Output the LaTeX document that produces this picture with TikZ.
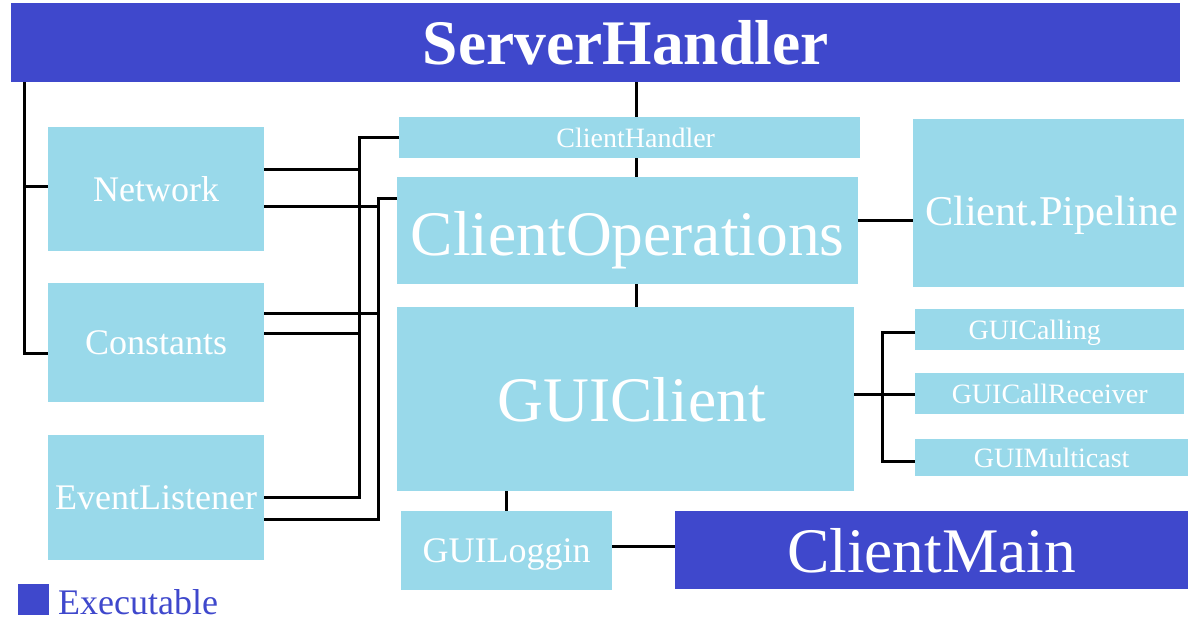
\documentclass[tikz,border=0pt]{standalone}
\usepackage{fontspec}
\setmainfont{Liberation Serif}
\usetikzlibrary{calc}
\definecolor{execblue}{RGB}{63,72,204}
\definecolor{classblue}{RGB}{153,217,234}
\newcommand{\hugetxt}{\fontsize{63.5}{70}\selectfont}
\newcommand{\pipetxt}{\fontsize{42.4}{48}\selectfont}
\newcommand{\midtxt}{\fontsize{36}{40}\selectfont}
\newcommand{\smalltxt}{\fontsize{28}{32}\selectfont}
\tikzset{
  % Klassen-Kasten
  classbox/.style={fill=classblue, text=white, inner sep=0pt, anchor=north west, text depth=0pt},
  % ausfuehrbare Klasse
  execbox/.style={classbox, fill=execblue},
  link/.style={draw=black, line width=3pt}
}
\begin{document}
\begin{tikzpicture}[x=1pt, y=-1pt, line join=miter]
  \useasboundingbox (0,0) rectangle (1198,624);
  % --- Kaesten ---
  \node[execbox, minimum width=1169pt, minimum height=79pt, font=\hugetxt\bfseries] (sh) at (11,3) {\hspace*{60pt}ServerHandler};
  \node[classbox, minimum width=216pt, minimum height=124pt, font=\midtxt] (net) at (48,127) {Network};
  \node[classbox, minimum width=216pt, minimum height=119pt, font=\midtxt] (con) at (48,283) {Constants};
  \node[classbox, minimum width=216pt, minimum height=125pt, font=\midtxt] (el) at (48,435) {EventListener};
  \node[classbox, minimum width=461pt, minimum height=41pt, font=\smalltxt] (ch) at (399,117) {\hspace*{12pt}ClientHandler};
  \node[classbox, minimum width=461pt, minimum height=107pt, text height=49.4pt, font=\hugetxt] (co) at (397,177) {ClientOperations};
  \node[classbox, minimum width=457pt, minimum height=184pt, font=\hugetxt] (gui) at (397,307) {\hspace*{12pt}GUIClient};
  \node[classbox, minimum width=271pt, minimum height=168pt, text height=45pt, font=\pipetxt] (pipe) at (913,119) {\hspace*{6pt}Client.Pipeline};
  \node[classbox, minimum width=269pt, minimum height=41pt, font=\smalltxt] (gcall) at (915,309) {GUICalling\hspace*{30pt}};
  \node[classbox, minimum width=269pt, minimum height=41pt, font=\smalltxt] (grecv) at (915,373) {GUICallReceiver};
  \node[classbox, minimum width=273pt, minimum height=37pt, font=\smalltxt] (gmul) at (915,439) {GUIMulticast};
  \node[classbox, minimum width=211pt, minimum height=79pt, font=\midtxt] (login) at (401,511) {GUILoggin};
  \node[execbox, minimum width=513pt, minimum height=78pt, font=\hugetxt] (cmain) at (675,511) {ClientMain};
  % --- Legende ---
  \node[execbox, minimum width=31pt, minimum height=31pt] (legbox) at (18,584) {};
  \node[anchor=base west, inner sep=0pt, text=execblue, font=\midtxt] (legtxt) at (58,614) {Executable};
  % --- Hilfslinien ---
  \coordinate (trunk) at (24,0);
  \coordinate (busA) at (359,0);
  \coordinate (busB) at (378,0);
  \coordinate (mid) at (636,0);
  \coordinate (brk) at (882,0);
  % ServerHandler links
  \draw[link] (sh.south -| trunk) |- ([yshift=-10.5pt]con.west);
  \draw[link] ([yshift=3pt]net.west -| trunk) -- ([yshift=3pt]net.west);
  % Bus zu ClientHandler
  \draw[link] (ch.west) -| (el.east -| busA) -- (el.east);
  \draw[link] ([yshift=20pt]net.east) -- ([yshift=20pt]net.east -| busA);
  \draw[link] ([yshift=9.5pt]con.east) -- ([yshift=9.5pt]con.east -| busA);
  % Bus zu ClientOperations
  \draw[link] ([yshift=32.5pt]co.west) -| ([yshift=-21.5pt]el.east -| busB) -- ([yshift=-21.5pt]el.east);
  \draw[link] ([yshift=-17pt]net.east) -- ([yshift=-17pt]net.east -| busB);
  \draw[link] ([yshift=29.5pt]con.east) -- ([yshift=29.5pt]con.east -| busB);
  % Mittelachse
  \draw[link] (sh.south -| mid) -- (ch.north -| mid);
  \draw[link] (ch.south -| mid) -- (co.north -| mid);
  \draw[link] (co.south -| mid) -- (gui.north -| mid);
  \draw[link] ([yshift=10.5pt]co.east) -- ([yshift=10.5pt]co.east -| pipe.west);
  % GUI-Klassen rechts
  \draw[link] ([yshift=5pt]gui.east) -- ([yshift=5pt]gui.east -| grecv.west);
  \draw[link] ([yshift=-2.5pt]gcall.west) -| ([yshift=-3.5pt]gmul.west -| brk) -- ([yshift=-3.5pt]gmul.west);
  % GUILoggin
  \draw[link] (gui.south -| login.north) -- (login.north);
  \draw[link] ([yshift=4.5pt]login.east) -- ([yshift=4.5pt]login.east -| cmain.west);
\end{tikzpicture}
\end{document}
